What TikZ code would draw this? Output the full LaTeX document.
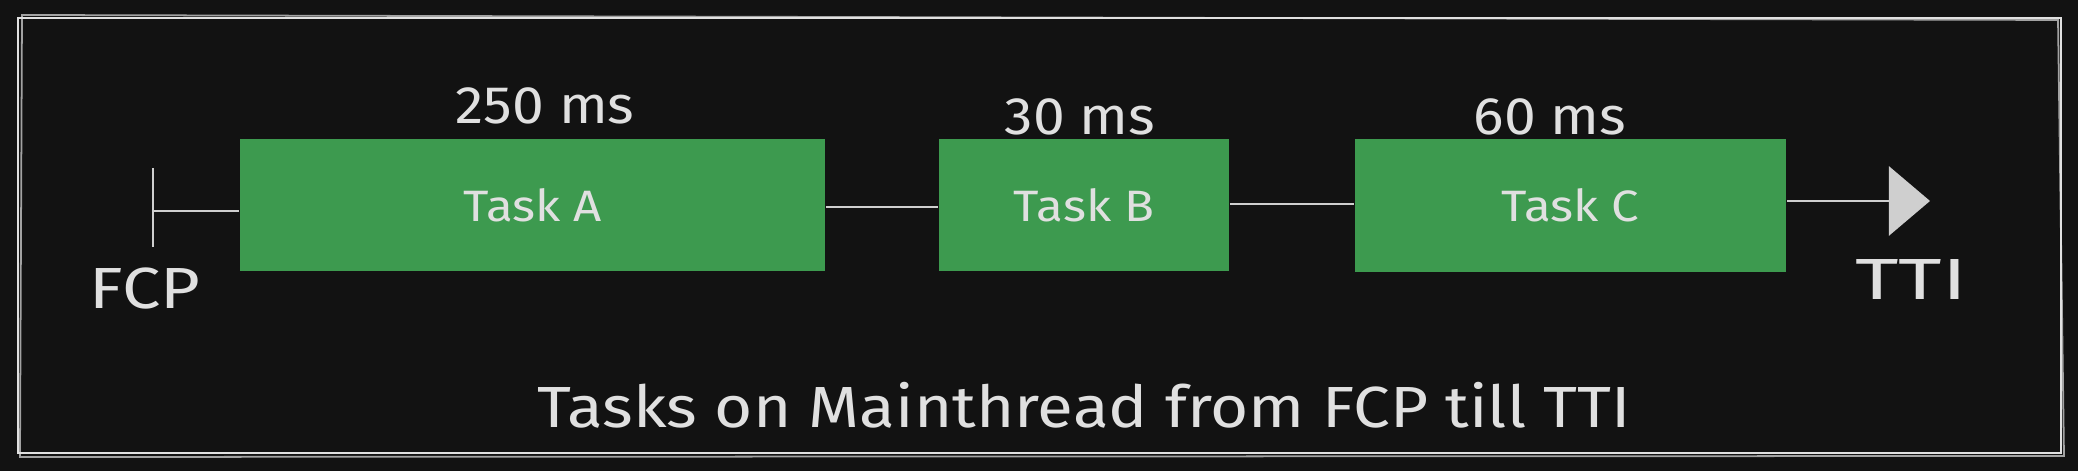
\documentclass[tikz,border=0pt]{standalone}
\usepackage{fontspec}
\usepackage{graphicx}
\setmainfont{Fira Sans}
\usetikzlibrary{arrows.meta}
\definecolor{bg}{HTML}{121212}
\definecolor{ink}{HTML}{E0E0E0}
\definecolor{line}{HTML}{CFCFCF}
\definecolor{taskgreen}{HTML}{3D9A4F}
\newcommand{\widetxt}[2]{\scalebox{#1}[1]{#2}}
\tikzset{
  taskbox/.style={fill=taskgreen, draw=none, minimum height=1.32cm, inner sep=0pt, text=ink, font=\fontsize{12.5}{14}\selectfont},
  durlabel/.style={text=ink, font=\fontsize{15}{17}\selectfont, inner sep=0pt},
  biglabel/.style={text=ink, font=\fontsize{16.5}{19}\selectfont, inner sep=0pt},
  conn/.style={draw=line, line width=0.7pt},
  frame/.style={draw=ink, line width=0.8pt}
}
\begin{document}
\begin{tikzpicture}[x=0.01cm,y=0.01cm]
\fill[bg] (0,0) rectangle (2078,471);
\useasboundingbox (0,0) rectangle (2078,471);
% sketchy frame
\draw[frame] (18,453) -- (2061,453) -- (2061,18) -- (18,18) -- cycle;
\draw[frame, line width=0.5pt, opacity=0.7] (22,456) -- (2058,451) -- (2064,15) -- (20,14) -- cycle;
% tasks
\node[taskbox, minimum width=5.85cm] (taskA) at (532.5,266) {\widetxt{1.12}{Task A}};
\node[taskbox, minimum width=2.90cm] (taskB) at (1084,266) {\widetxt{1.12}{Task B}};
\node[taskbox, minimum width=4.31cm] (taskC) at (1570.5,265.5) {\widetxt{1.12}{Task C}};
% duration labels
\node[durlabel] (durA) at (545,365) {\widetxt{1.08}{250 ms}};
\node[durlabel] (durB) at (1080,354) {\widetxt{1.08}{30 ms}};
\node[durlabel] (durC) at (1550,354) {\widetxt{1.08}{60 ms}};
% FCP marker
\coordinate (fcptop) at (153,303);
\coordinate (fcpbot) at (153,224);
\coordinate (fcpmid) at (153,260);
\draw[conn] (fcptop) -- (fcpbot);
\draw[conn] (fcpmid) -- (fcpmid -| taskA.west);
\node[biglabel] (fcp) at (145,182) {\widetxt{1.18}{FCP}};
% connectors
\draw[conn] (taskA.east |- 0,264) -- (taskB.west |- 0,264);
\draw[conn] (taskB.east |- 0,267) -- (taskC.west |- 0,267);
\coordinate (tti) at (1930,270);
\draw[conn, -{Triangle[length=0.41cm, width=0.69cm, fill=line]}] (taskC.east |- tti) -- (tti);
\node[biglabel] (ttilabel) at (1911,191) {\widetxt{1.45}{TTI}};
% caption
\node[biglabel] (caption) at (1084,66) {\widetxt{1.13}{Tasks on Mainthread from FCP till TTI}};
\end{tikzpicture}
\end{document}
